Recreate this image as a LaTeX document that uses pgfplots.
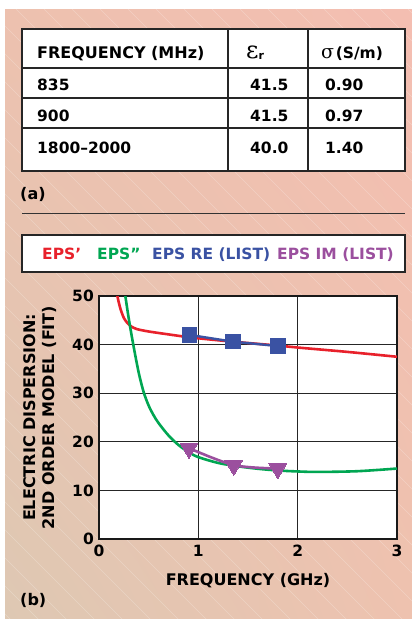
\documentclass[border=0pt]{standalone}
\usepackage{fontspec}
\usepackage{graphicx}
\usepackage{pgfplots}
\pgfplotsset{compat=1.18}
\usetikzlibrary{shadings}
\setmainfont{DejaVu Sans}
\newfontfamily\serifgr{DejaVu Serif}
\definecolor{cRed}{HTML}{E8212B}
\definecolor{cGreen}{HTML}{00A652}
\definecolor{cBlue}{HTML}{3A52A3}
\definecolor{cPurple}{HTML}{9B4F9E}
\definecolor{bgTR}{HTML}{F4BEB1}
\definecolor{bgBL}{HTML}{DEC8B3}
\definecolor{bgTL}{HTML}{EDC1AF}
\definecolor{bgBR}{HTML}{EEC2AF}
\newcommand{\bfs}{\fontsize{15.5}{19}\selectfont\bfseries}
\newcommand{\bfl}{\fontsize{16}{19}\selectfont\bfseries}
\begin{document}
\begin{tikzpicture}[x=1pt,y=1pt]
\useasboundingbox (0,0) rectangle (412,-619);
\fill[white] (0,0) rectangle (412,-619);
\shade[upper right=bgTR, lower left=bgBL, upper left=bgTL, lower right=bgBR] (5,-9) rectangle (412,-618);
\begin{scope}
\clip (5,-9) rectangle (412,-618);
\foreach \k in {-600,-572,...,420} {
  \draw[white, opacity=0.25, line width=0.6pt] (\k,-9) -- ++(620,-620);
}
\end{scope}
% table
\fill[white] (22,-29) rectangle (405,-171);
\draw[line width=1.2pt, black!85] (22,-68) -- (405,-68) (22,-98) -- (405,-98) (22,-128) -- (405,-128)
  (228,-29) -- (228,-171) (308,-29) -- (308,-171);
\draw[line width=2pt, black!85] (22,-29) rectangle (405,-171);
\node[anchor=base west, inner sep=0] at (37,-58) {\bfl FREQUENCY (MHz)};
\node[anchor=base west, inner sep=0] at (246,-58) {{\serifgr\fontsize{24}{24}\selectfont ε}\raisebox{-1pt}{\fontsize{11}{11}\selectfont\bfseries r}};
\node[anchor=base west, inner sep=0] at (321,-58) {{\serifgr\fontsize{19}{19}\selectfont σ}\,\bfs(S/m)};
\node[anchor=base west, inner sep=0] at (37,-90) {\bfs 835};
\node[anchor=base west, inner sep=0] at (37,-121) {\bfs 900};
\node[anchor=base west, inner sep=0] at (37,-153) {\bfs 1800–2000};
\node[anchor=base west, inner sep=0] at (250,-90) {\bfs 41.5};
\node[anchor=base west, inner sep=0] at (250,-121) {\bfs 41.5};
\node[anchor=base west, inner sep=0] at (250,-153) {\bfs 40.0};
\node[anchor=base west, inner sep=0] at (325,-90) {\bfs 0.90};
\node[anchor=base west, inner sep=0] at (325,-121) {\bfs 0.97};
\node[anchor=base west, inner sep=0] at (325,-153) {\bfs 1.40};
\node[anchor=base west, inner sep=0] at (20,-199) {\fontsize{16}{16}\selectfont\bfseries (a)};
\draw[line width=1.4pt, black!80] (22,-213.5) -- (405,-213.5);
% legend box
\fill[white] (22,-235) rectangle (405,-272);
\draw[line width=2pt, black!85] (22,-235) rectangle (405,-272);
\node[anchor=base west, inner sep=0, text=cRed] at (42,-259) {\bfs EPS’};
\node[anchor=base west, inner sep=0, text=cGreen] at (97,-259) {\bfs EPS”};
\node[anchor=base west, inner sep=0, text=cBlue] at (152,-259) {\bfs EPS RE (LIST)};
\node[anchor=base west, inner sep=0, text=cPurple] at (277,-259) {\bfs EPS IM (LIST)};
\node[anchor=base west, inner sep=0] at (20,-605) {\fontsize{16}{16}\selectfont\bfseries (b)};
\begin{axis}[
  at={(99pt,-539pt)}, anchor=south west, scale only axis,
  width=298pt, height=243pt,
  xmin=0, xmax=3, ymin=0, ymax=50,
  xtick={0,1,2,3}, ytick={0,10,20,30,40,50},
  grid=major, major grid style={line width=1.3pt, black!85},
  axis line style={line width=1.8pt, black!90},
  major tick length=0pt,
  axis background/.style={fill=white},
  /pgf/number format/assume math mode=true,
  tick label style={font=\bfs},
  xticklabel style={inner sep=6pt},
  yticklabel style={inner sep=5pt},
  xlabel={FREQUENCY (GHz)},
  ylabel={ELECTRIC DISPERSION:\\2ND ORDER MODEL (FIT)},
  label style={font=\bfl},
  xlabel style={at={(axis description cs:0.5,-0.1728)}, anchor=center},
  ylabel style={at={(axis description cs:-0.1963,0.5)}, anchor=center, align=center},
]
\addplot[cRed, line width=2.6pt, smooth] coordinates {
(0.18,50.5) (0.20,48.6) (0.22,47.1) (0.25,45.5) (0.28,44.6) (0.32,43.8) (0.38,43.2)
(0.5,42.7) (0.7,42.1) (0.84,41.7) (1.0,41.3) (1.35,40.6) (1.8,39.8) (2.0,39.4)
(2.5,38.5) (3.0,37.5)};
\addplot[cGreen, line width=2.6pt, smooth] coordinates {
(0.263,50.3) (0.30,45.3) (0.345,40) (0.40,34.2) (0.45,30.2) (0.50,27.45) (0.55,25.45)
(0.60,23.85) (0.7,21.3) (0.8,19.35) (0.9,17.9) (1.0,16.85) (1.2,15.65) (1.4,14.95)
(1.6,14.45) (1.8,14.1) (2.0,13.9) (2.2,13.8) (2.6,13.95) (3.0,14.5)};
\addplot[cBlue, line width=2.4pt, mark=square*, mark size=7.3pt, mark options={solid, fill=cBlue, draw=cBlue, line width=0pt}] coordinates {
(0.91,42.0) (1.35,40.6) (1.805,39.7)};
\addplot[cPurple, line width=2.6pt, smooth, mark=triangle*, mark size=10.2pt, mark options={solid, rotate=180, fill=cPurple, draw=cPurple, line width=0pt}] coordinates {
(0.906,18.7) (1.357,15.2) (1.80,14.5)};
\end{axis}
\end{tikzpicture}
\end{document}
